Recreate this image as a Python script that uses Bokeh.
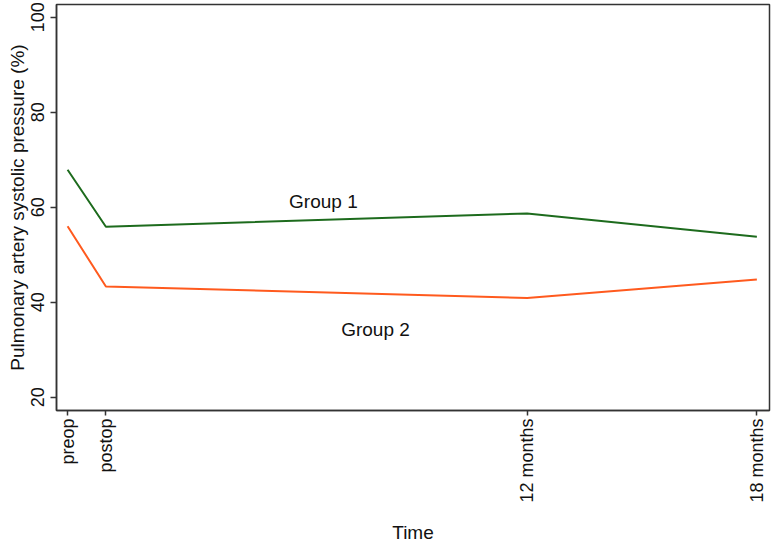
import math
from bokeh.plotting import figure
from bokeh.models import FixedTicker, Range1d, ColumnDataSource
from bokeh.core.properties import value
from bokeh.embed import file_html
from bokeh.resources import INLINE

# Data
time_months = [0, 1, 12, 18]
time_labels = ["preop", "postop", "12 months", "18 months"]
group1 = [67.9, 55.9, 58.7, 53.8]
group2 = [56.0, 43.3, 40.9, 44.8]
y_ticks = [20, 40, 60, 80, 100]
series_names = ["Group 1", "Group 2"]
label_x = [6.68, 8.04]
label_y = [61.2, 34.3]

FONT = "Liberation Sans"

p = figure(
    frame_width=713, frame_height=406,
    min_border_left=56, min_border_right=2, min_border_top=4, min_border_bottom=110,
    x_range=Range1d(-0.29, 18.33), y_range=Range1d(17.2, 102.7),
    output_backend="svg", toolbar_location=None,
)
p.background_fill_color = "white"
p.border_fill_color = "white"
p.xgrid.visible = False
p.ygrid.visible = False
p.outline_line_color = "#333333"
p.outline_line_width = 1.5

p.line(time_months, group1, line_color="#1d6b1d", line_width=2)
p.line(time_months, group2, line_color="#ff5a1e", line_width=2)

src = ColumnDataSource(dict(x=label_x, y=label_y, t=series_names))
p.text(x="x", y="y", text="t", source=src, text_align="center", text_baseline="middle",
       text_font=value(FONT), text_font_size="19px", text_color="#111111")

xa = p.xaxis[0]
xa.ticker = FixedTicker(ticks=time_months)
xa.major_label_overrides = {m: l for m, l in zip(time_months, time_labels)}
xa.major_label_orientation = math.pi / 2
xa.axis_label = "Time"
ya = p.yaxis[0]
ya.ticker = FixedTicker(ticks=y_ticks)
ya.major_label_orientation = "parallel"
ya.axis_label = "Pulmonary artery systolic pressure (%)"

for ax in (xa, ya):
    ax.minor_tick_line_color = None
    ax.major_tick_in = 0
    ax.major_tick_out = 6
    ax.axis_line_color = "#333333"
    ax.axis_line_width = 1.5
    ax.major_tick_line_color = "#333333"
    ax.major_tick_line_width = 1.5
    ax.major_label_text_font = FONT
    ax.major_label_text_font_size = "18px"
    ax.major_label_text_color = "#111111"
    ax.axis_label_text_font = FONT
    ax.axis_label_text_font_size = "19px"
    ax.axis_label_text_font_style = "normal"
    ax.axis_label_text_color = "#111111"

xa.major_tick_out = 5
xa.major_label_standoff = 3
xa.axis_label_standoff = 16
ya.major_label_standoff = 6
ya.axis_label_standoff = 1

open("out.html", "w").write(file_html(p, INLINE))
